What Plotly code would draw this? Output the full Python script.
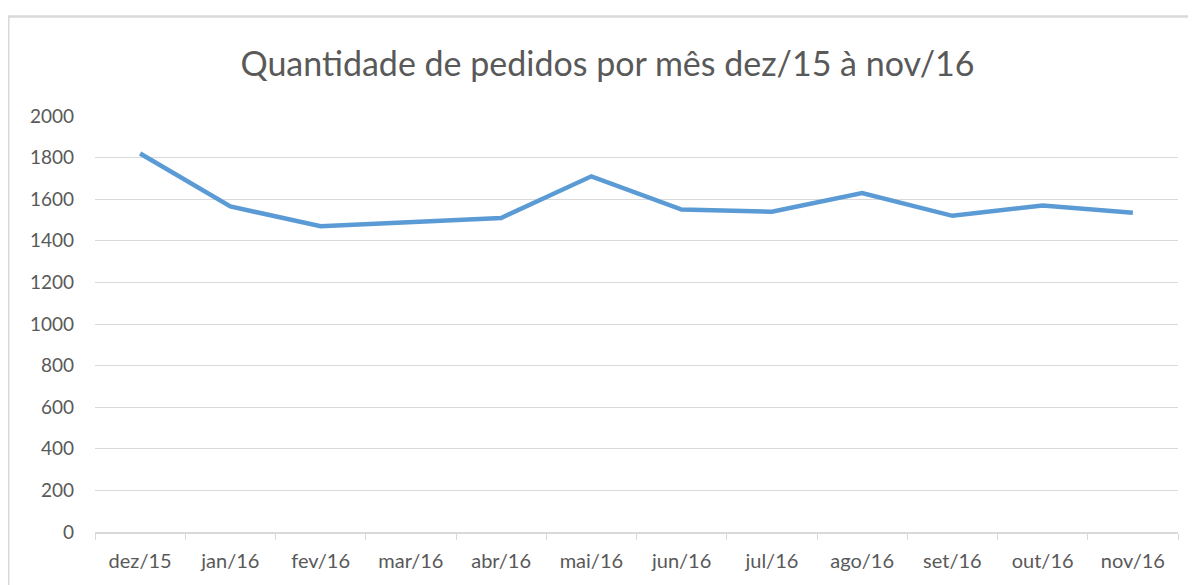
import plotly.graph_objects as go

meses = ["dez/15", "jan/16", "fev/16", "mar/16", "abr/16", "mai/16",
         "jun/16", "jul/16", "ago/16", "set/16", "out/16", "nov/16"]
pedidos = [1820, 1565, 1470, 1490, 1510, 1710, 1550, 1540, 1630, 1520, 1570, 1535]
y_ticks = [0, 200, 400, 600, 800, 1000, 1200, 1400, 1600, 1800, 2000]

W, H = 1196, 585
L, R, T, B = 87, 26, 108, 61
pw, ph = W - L - R, H - T - B

def px(x):
    return (x - L) / pw

def py(y):
    return (H - B - y) / ph

fig = go.Figure(go.Scatter(
    x=meses, y=pedidos, mode="lines",
    line=dict(color="#5B9BD5", width=4.5),
    hoverinfo="x+y",
))

fig.update_layout(
    width=W, height=H,
    margin=dict(l=L, r=R, t=T, b=B),
    paper_bgcolor="white", plot_bgcolor="white",
    showlegend=False,
    title=dict(text="Quantidade de pedidos por mês dez/15 à nov/16",
               x=599.5 / W, xanchor="center", y=1 - 56 / H, yanchor="middle",
               font=dict(family="Lato, Open Sans, sans-serif", size=34, color="#595959")),
    font=dict(family="Lato, Open Sans, sans-serif", color="#595959", size=19),
    xaxis=dict(type="category", showgrid=False, tickson="boundaries",
               ticks="outside", ticklen=6, tickcolor="#d9d9d9", tickwidth=1,
               showline=True, linecolor="#d9d9d9", linewidth=1.5,
               ticklabelstandoff=10,
               tickfont=dict(size=20, color="#595959"), range=[-0.5, 11.5]),
    yaxis=dict(range=[0, 2000], tickvals=y_ticks, showgrid=True,
               gridcolor="#d9d9d9", gridwidth=1, zeroline=False,
               showline=False, ticks="", ticklabelstandoff=20,
               tickfont=dict(size=19, color="#595959")),
    shapes=[
        dict(type="line", xref="paper", yref="paper",
             x0=px(0), x1=px(0), y0=py(8.5), y1=py(H + 5),
             line=dict(color="#d9d9d9", width=3)),
        dict(type="line", xref="paper", yref="paper",
             x0=px(-1), x1=px(W + 5), y0=py(8.5), y1=py(8.5),
             line=dict(color="#d9d9d9", width=2.5)),
    ],
)

fig.write_html("out.html")
